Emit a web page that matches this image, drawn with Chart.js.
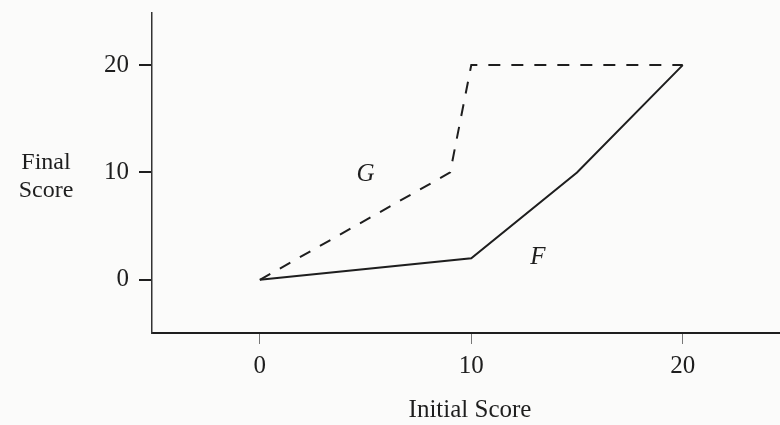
<!DOCTYPE html>
<html lang="en">
<head>
  <meta charset="UTF-8" />
  <title>Initial vs Final Score</title>
  <script src="https://cdn.jsdelivr.net/npm/chart.js"></script>
  <style>
    html, body { margin: 0; padding: 0; background: #fbfbfa; }
    #wrap { width: 780px; height: 425px; position: relative; }
  </style>
</head>
<body>
  <div id="wrap"><canvas id="chart"></canvas></div>
  <script>
    // G = dashed, F = solid
    const gX = [0, 9, 10, 20];
    const gY = [0, 10, 20, 20];
    const fX = [0, 10, 15, 20];
    const fY = [0, 2, 10, 20];
    const xTicks = [0, 10, 20];
    const yTicks = [0, 10, 20];
    const xTitle = "Initial Score";
    const yTitle = ["Final", "Score"];
    const curveLabels = [
      { text: "G", x: 5.0, y: 9.8 },
      { text: "F", x: 13.15, y: 2.1 }
    ];

    const ink = "#1e1e1e";
    const serif = "'Liberation Serif', 'DejaVu Serif', serif";

    const toPoints = (xs, ys) => xs.map((x, i) => ({ x: x, y: ys[i] }));

    // text that is not an axis tick: y title, x title, curve names
    const textPlugin = {
      id: "texts",
      afterDraw(chart) {
        const ctx = chart.ctx;
        const xs = chart.scales.x, ys = chart.scales.y;
        ctx.save();
        ctx.fillStyle = ink;
        ctx.textAlign = "center";
        ctx.textBaseline = "middle";
        ctx.font = "24px " + serif;
        ctx.fillText(yTitle[0], 46, 163);
        ctx.fillText(yTitle[1], 46, 191);
        ctx.font = "25px " + serif;
        ctx.fillText(xTitle, 470, 410);
        ctx.font = "italic 25px " + serif;
        curveLabels.forEach(l => {
          ctx.fillText(l.text, xs.getPixelForValue(l.x), ys.getPixelForValue(l.y));
        });
        ctx.restore();
      }
    };

    new Chart(document.getElementById("chart"), {
      type: "scatter",
      data: {
        datasets: [
          {
            label: "G",
            data: toPoints(gX, gY),
            showLine: true,
            borderColor: ink,
            borderWidth: 2,
            borderDash: [12, 11],
            pointRadius: 0,
            fill: false
          },
          {
            label: "F",
            data: toPoints(fX, fY),
            showLine: true,
            borderColor: ink,
            borderWidth: 2,
            pointRadius: 0,
            fill: false
          }
        ]
      },
      options: {
        responsive: true,
        maintainAspectRatio: false,
        animation: false,
        layout: { padding: { top: 13, right: 0, left: 0, bottom: 0 } },
        plugins: { legend: { display: false }, tooltip: { enabled: false } },
        scales: {
          x: {
            type: "linear",
            min: -5.1,
            max: 24.6,
            afterBuildTicks: s => { s.ticks = xTicks.map(v => ({ value: v })); },
            afterFit: s => { s.height = 92; s.paddingLeft = 0; s.paddingRight = 0; },
            grid: { drawOnChartArea: false, drawTicks: true, tickLength: 11, color: "#777", lineWidth: 1 },
            border: { display: true, color: ink, width: 2 },
            ticks: { color: ink, font: { family: serif, size: 25 }, padding: 7 }
          },
          y: {
            type: "linear",
            min: -4.95,
            max: 24.85,
            afterBuildTicks: s => { s.ticks = yTicks.map(v => ({ value: v })); },
            afterFit: s => { s.width = 152; s.paddingTop = 0; s.paddingBottom = 0; },
            grid: { drawOnChartArea: false, drawTicks: true, tickLength: 13, color: ink, lineWidth: 2 },
            border: { display: true, color: "#333", width: 1.5 },
            ticks: { color: ink, font: { family: serif, size: 25 }, padding: 10 }
          }
        }
      },
      plugins: [textPlugin]
    });
  </script>
</body>
</html>
